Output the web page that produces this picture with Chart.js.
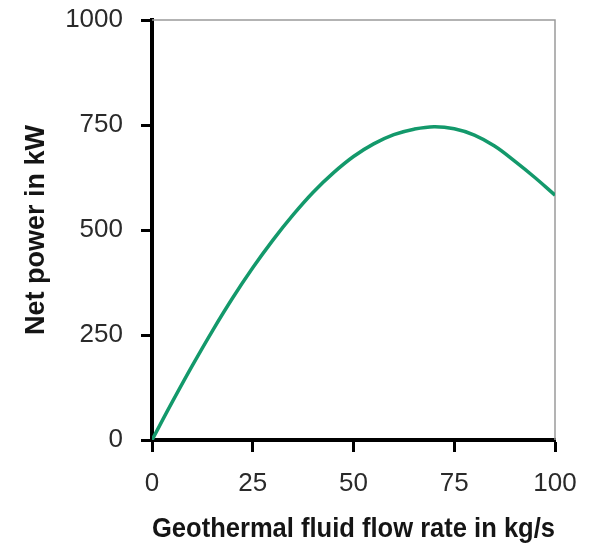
<!DOCTYPE html>
<html><head><meta charset="utf-8">
<script src="https://cdn.jsdelivr.net/npm/chart.js@4/dist/chart.umd.min.js"></script>
<style>html,body{margin:0;padding:0;background:#fff}#wrap{width:593px;height:546px}</style>
</head><body><div id="wrap"><canvas id="c" width="593" height="546"></canvas></div>
<script>
const flowRates = [0,5,10,15,20,25,30,35,40,45,50,55,60,65,70,75,80,85,90,95,100];
const netPower = [0,90,177,260,338,410,476,536,590,636,675,705,727,740,746,741,726,700,664,625,583];
const xTicks = [0,25,50,75,100];
const yTicks = [0,250,500,750,1000];
const xTitle = 'Geothermal fluid flow rate in kg/s';
const yTitle = 'Net power in kW';

const frame = {
  id:'frame',
  beforeDatasetsDraw(chart){
    const {ctx, chartArea:a} = chart;
    ctx.save();
    ctx.strokeStyle = '#9a9a9a'; ctx.lineWidth = 1.5;
    ctx.beginPath();
    ctx.moveTo(a.left, a.top); ctx.lineTo(a.right, a.top); ctx.lineTo(a.right, a.bottom);
    ctx.stroke();
    ctx.restore();
  }
};

new Chart(document.getElementById('c'), {
  type:'line',
  data:{ datasets:[{ data: flowRates.map((x,i)=>({x, y: netPower[i]})), borderColor:'#13996b', borderWidth:3.5, pointRadius:0, tension:0.4, fill:false }]},
  options:{
    responsive:false, animation:false,
    layout:{ padding:{ left:20, right:38, top:20, bottom:0 } },
    plugins:{ legend:{display:false}, tooltip:{enabled:false} },
    scales:{
      x:{ type:'linear', min:0, max:100,
        afterBuildTicks(s){ s.ticks = xTicks.map(v=>({value:v})); },
        afterFit(s){ s.height = 106; s.paddingLeft = 0; s.paddingRight = 0; },
        grid:{ drawOnChartArea:false, drawTicks:true, tickLength:12, tickWidth:3, tickColor:'#000' },
        border:{ color:'#000', width:4 },
        ticks:{ color:'#2a2a2a', font:{ family:'Liberation Sans, Arial', size:26 }, padding:16, maxRotation:0, callback:v=>String(v) },
        title:{ display:true, text:xTitle, color:'#151515', font:{ family:'Liberation Sans, Arial', size:27, weight:'bold' }, padding:{ top:0, bottom:0 } }
      },
      y:{ type:'linear', min:0, max:1000,
        afterBuildTicks(s){ s.ticks = yTicks.map(v=>({value:v})); },
        afterFit(s){ s.width = 132; s.paddingTop = 0; s.paddingBottom = 0; },
        grid:{ drawOnChartArea:false, drawTicks:true, tickLength:11, tickWidth:3, tickColor:'#000' },
        border:{ color:'#000', width:4 },
        ticks:{ color:'#2a2a2a', font:{ family:'Liberation Sans, Arial', size:26 }, padding:18, callback:v=>String(v) },
        title:{ display:true, text:yTitle, color:'#151515', font:{ family:'Liberation Sans, Arial', size:27, weight:'bold' }, padding:{ top:0, bottom:0 } }
      }
    }
  },
  plugins:[frame]
});
</script></body></html>
